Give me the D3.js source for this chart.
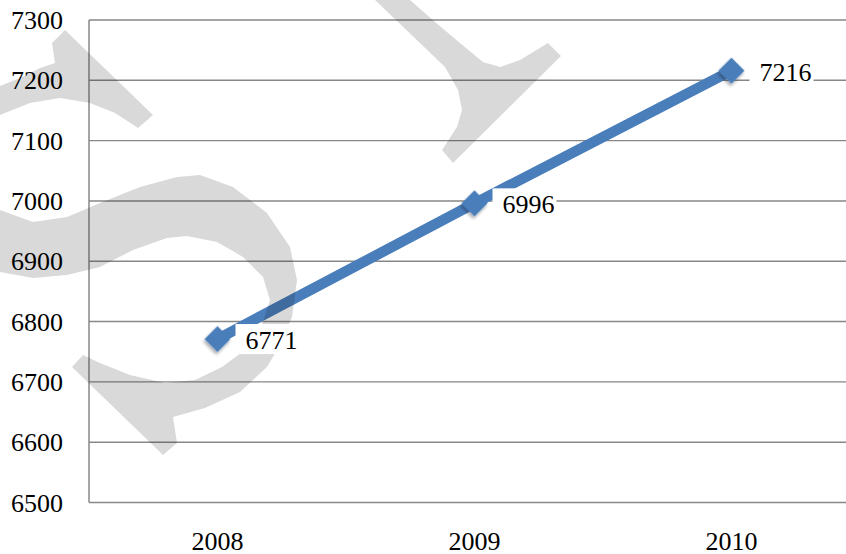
<!DOCTYPE html>
<html><head><meta charset="utf-8">
<script src="https://cdn.jsdelivr.net/npm/d3@7"></script>
<style>html,body{margin:0;padding:0;background:#fff;}svg{display:block;}</style>
</head><body>
<script>
const categories = ["2008", "2009", "2010"];
const values = [6771, 6996, 7216];
const yTicks = [6500, 6600, 6700, 6800, 6900, 7000, 7100, 7200, 7300];

// watermark outline points (decoration)
const wmTop = [[0,86],[20,78],[40,68],[55,63],[52,43],[65,30],[153,115],[138,128],[115,113],[90,103],[60,98],[30,103],[0,115]];
const wmS = [[0,210],[33,222],[67,217],[100,203],[140,187],[177,177],[200,175],[233,187],[267,213],[290,247],[297,280],[292,317],[280,345],[267,367],[240,392],[205,408],[173,417],[177,443],[163,455],[72,367],[83,355],[100,363],[130,375],[165,383],[195,380],[222,367],[245,350],[262,325],[270,300],[263,277],[243,257],[217,242],[187,236],[167,238],[133,250],[100,267],[67,275],[33,278],[0,272]];
const wmY = [[375,0],[410,0],[435,22],[460,43],[483,62],[500,67],[520,60],[548,43],[561,56],[453,163],[442,150],[457,127],[462,110],[458,90],[445,67]];

const W = 846, H = 554;
const svg = d3.select("body").append("svg").attr("width", W).attr("height", H);
const defs = svg.append("defs");
const f = defs.append("filter").attr("id","sh").attr("x","-50%").attr("y","-50%").attr("width","200%").attr("height","200%");
f.append("feDropShadow").attr("dx",1).attr("dy",2.5).attr("stdDeviation",1.5).attr("flood-color","#000").attr("flood-opacity",0.35);

const plotLeft = 89, plotTop = 20, plotBottom = 502.5;
const x = d3.scalePoint().domain(categories).range([plotLeft, 860]).padding(0.5);
const y = d3.scaleLinear().domain([6500, 7300]).range([plotBottom, plotTop]);
const font = "Liberation Serif, Times New Roman, DejaVu Serif, serif";
const gridColor = "#878787";

// gridlines
svg.append("g").selectAll("line").data(yTicks).join("line")
  .attr("x1", plotLeft).attr("x2", W)
  .attr("y1", d => y(d)).attr("y2", d => y(d))
  .attr("stroke", gridColor).attr("stroke-width", 1.4);
// left axis line
svg.append("line").attr("x1", plotLeft).attr("x2", plotLeft).attr("y1", y(7300)).attr("y2", y(6500))
  .attr("stroke", gridColor).attr("stroke-width", 1.5);

// y labels
svg.append("g").selectAll("text").data(yTicks).join("text")
  .attr("x", 63).attr("y", d => y(d) + 9)
  .attr("text-anchor", "end").style("font-family", font).style("font-size", "26px").attr("fill", "#000")
  .text(d => d);
// x labels
svg.append("g").selectAll("text").data(categories).join("text")
  .attr("x", d => x(d)).attr("y", 550)
  .attr("text-anchor", "middle").style("font-family", font).style("font-size", "26px").attr("fill", "#000")
  .text(d => d);

const pts = categories.map((c, i) => ({c, v: values[i]}));
const blue = "#4a7ebb";
svg.append("path").datum(pts)
  .attr("d", d3.line().x(d => x(d.c)).y(d => y(d.v)))
  .attr("fill", "none").attr("stroke", blue).attr("stroke-width", 10.5).attr("stroke-linejoin", "round");

svg.append("g").selectAll("path").data(pts).join("path")
  .attr("d", d3.symbol(d3.symbolSquare, 340))
  .attr("transform", d => `translate(${x(d.c)},${y(d.v)}) rotate(45)`)
  .attr("fill", blue).attr("filter", "url(#sh)");

// watermark
const wl = d3.line();
const wm = svg.append("g").attr("fill", "#000").attr("fill-opacity", 0.15);
[wmTop, wmS, wmY].forEach(p => wm.append("path").attr("d", wl(p) + "Z"));

// data labels with white box
const lab = svg.append("g").selectAll("g").data(pts).join("g")
  .attr("transform", d => `translate(${x(d.c)},${y(d.v)})`);
lab.append("rect").attr("x", 18).attr("y", -15).attr("width", 64).attr("height", 30).attr("fill", "#fff");
lab.append("text").attr("x", 28).attr("y", 10)
  .style("font-family", font).style("font-size", "26px").attr("fill", "#000")
  .text(d => d.v);
</script>
</body></html>
